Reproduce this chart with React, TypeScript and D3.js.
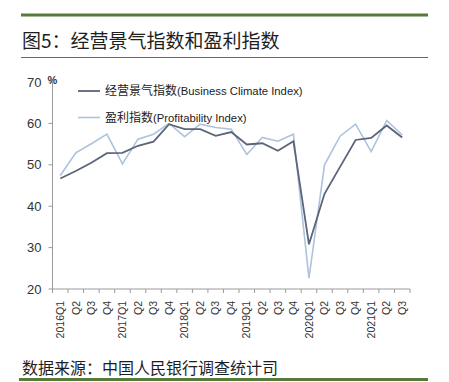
import React from "react";
import * as d3 from "d3";

const quarters = [
  "2016Q1", "Q2", "Q3", "Q4",
  "2017Q1", "Q2", "Q3", "Q4",
  "2018Q1", "Q2", "Q3", "Q4",
  "2019Q1", "Q2", "Q3", "Q4",
  "2020Q1", "Q2", "Q3", "Q4",
  "2021Q1", "Q2", "Q3",
];

const businessClimate = [
  46.7, 48.5, 50.5, 52.8, 52.9, 54.6, 55.6, 59.8, 58.6, 58.6, 57.0, 57.9,
  54.9, 55.2, 53.4, 55.7, 30.8, 43.0, 49.5, 56.0, 56.5, 59.5, 56.6,
];

const profitability = [
  47.4, 52.9, 55.1, 57.4, 50.2, 56.2, 57.4, 60.0, 56.8, 59.8, 59.0, 58.6,
  52.5, 56.6, 55.7, 57.4, 22.6, 50.0, 56.9, 59.8, 53.2, 60.7, 57.2,
];

const yTicks = [20, 30, 40, 50, 60, 70];

const seriesCn = ["经营景气指数", "盈利指数"];
const seriesEn = ["(Business Climate Index)", "(Profitability Index)"];

const title = "图5：经营景气指数和盈利指数";
const source = "数据来源：中国人民银行调查统计司";

export default function App() {
  const W = 449;
  const H = 382;
  const left = 52.5;
  const right = 410;
  const top = 82;
  const bottom = 289;

  const x = d3.scaleBand<string>()
    .domain(quarters.map((_, i) => String(i)))
    .range([left, right])
    .padding(0);
  const y = d3.scaleLinear().domain([20, 70]).range([bottom, top]);
  const cx = (i: number) => (x(String(i)) as number) + x.bandwidth() / 2;

  const line = d3.line<number>()
    .x((_, i) => cx(i))
    .y((d) => y(d));

  const green = "#557a3b";
  const darkLine = "#5b6479";
  const lightLine = "#adc3dc";
  const axisColor = "#9a9a9a";

  const boundaries = d3.range(quarters.length + 1).map((i) => left + i * x.bandwidth());
  const legendY = [91, 117.5];
  const legendColors = [darkLine, lightLine];
  const legendWidths = [1.8, 1.6];

  return (
    <svg
      width={W}
      height={H}
      style={{ position: "absolute", left: 0, top: 0, background: "#fff" }}
    >
      <rect x={0} y={0} width={W} height={H} fill="#fff" />
      <rect x={21} y={13.5} width={407} height={3} fill={green} />
      <text
        x={22}
        y={47.5}
        fontFamily="'Noto Sans CJK SC', sans-serif"
        fontSize={19}
        fill="#1e1e1e"
      >
        {title}
      </text>
      <rect x={21} y={57} width={407} height={1} fill={green} />

      {/* y axis */}
      <line x1={left} x2={left} y1={top} y2={bottom} stroke={axisColor} strokeWidth={1} />
      {yTicks.map((t) => (
        <g key={t}>
          <line x1={left - 4} x2={left} y1={y(t)} y2={y(t)} stroke={axisColor} />
          <text
            x={41.5}
            y={y(t) + 4.5}
            textAnchor="end"
            fontFamily="'Liberation Sans', Arial, sans-serif"
            fontSize={13}
            fill="#333"
          >
            {t}
          </text>
        </g>
      ))}
      <text
        x={47.5}
        y={84}
        fontFamily="'Liberation Sans', Arial, sans-serif"
        fontSize={11}
        fontWeight="bold"
        fill="#333"
      >
        %
      </text>

      {/* x axis */}
      <line x1={left} x2={right} y1={bottom} y2={bottom} stroke={axisColor} strokeWidth={1} />
      {boundaries.map((bx, i) => (
        <line key={i} x1={bx} x2={bx} y1={bottom} y2={bottom + 4} stroke={axisColor} />
      ))}
      {quarters.map((q, i) => (
        <text
          key={i}
          transform={`translate(${cx(i) + 3.7},${301}) rotate(-90)`}
          textAnchor="end"
          fontFamily="'Liberation Sans', Arial, sans-serif"
          fontSize={10.5}
          fill="#333"
        >
          {q}
        </text>
      ))}

      {/* lines */}
      <path d={line(profitability) || ""} fill="none" stroke={lightLine} strokeWidth={1.6} />
      <path d={line(businessClimate) || ""} fill="none" stroke={darkLine} strokeWidth={1.8} />

      {/* legend */}
      {seriesCn.map((name, i) => (
        <g key={name}>
          <line
            x1={78}
            x2={100}
            y1={legendY[i]}
            y2={legendY[i]}
            stroke={legendColors[i]}
            strokeWidth={legendWidths[i]}
          />
          <text x={105} y={legendY[i] + 4.3} fill="#222">
            <tspan fontFamily="'Noto Sans CJK SC', sans-serif" fontSize={12}>
              {name}
            </tspan>
            <tspan fontFamily="'Liberation Sans', Arial, sans-serif" fontSize={11.3}>
              {seriesEn[i]}
            </tspan>
          </text>
        </g>
      ))}

      {/* source */}
      <text
        x={22}
        y={374}
        fontFamily="'Noto Sans CJK SC', sans-serif"
        fontSize={16}
        fill="#1e1e1e"
      >
        {source}
      </text>
      <rect x={19} y={378} width={409} height={3} fill={green} />
    </svg>
  );
}
